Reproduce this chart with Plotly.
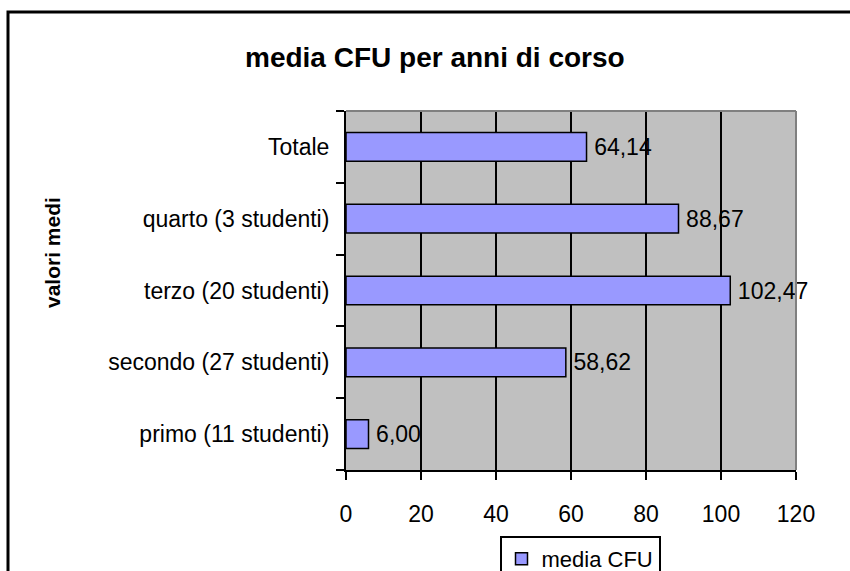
import plotly.graph_objects as go

categories = ["primo (11 studenti)", "secondo (27 studenti)", "terzo (20 studenti)",
              "quarto (3 studenti)", "Totale"]
values = [6.00, 58.62, 102.47, 88.67, 64.14]
x_ticks = [0, 20, 40, 60, 80, 100, 120]
series_name = "media CFU"
title_text = "media CFU per anni di corso"
ytitle_text = "valori medi"

W, H = 850, 571
L, R, T, B = 346, 796, 111, 470  # plot area in pixels

def px(x):
    return (x - L) / (R - L)

def py(y):
    return (B - y) / (B - T)

FONT = "Liberation Sans, Arial, sans-serif"

fig = go.Figure()
fig.add_trace(go.Bar(
    y=categories, x=values, orientation="h", name=series_name,
    width=0.4,
    marker=dict(color="#9999FF", line=dict(color="black", width=1.5)),
    texttemplate="\u2009%{x:.2f}", textposition="outside",
    textfont=dict(family=FONT, size=23, color="black"),
    cliponaxis=False, showlegend=True,
))

fig.update_layout(
    width=W, height=H,
    margin=dict(l=L, r=W - R, t=T, b=H - B, pad=0, autoexpand=False),
    paper_bgcolor="white", plot_bgcolor="#C0C0C0",
    separators=",.",
    font=dict(family=FONT, size=23, color="black"),
    showlegend=True,
    legend=dict(xref="container", yref="container",
                x=580 / W, y=1 - 536 / H, xanchor="center", yanchor="top",
                bordercolor="black", borderwidth=2, bgcolor="white",
                font=dict(family=FONT, size=22, color="black")),
)

fig.update_xaxes(range=[0, 120], tickvals=x_ticks, ticktext=[str(v) for v in x_ticks],
                 showgrid=True, gridcolor="black", gridwidth=1.5,
                 showline=True, linecolor="black", linewidth=2,
                 ticks="outside", ticklen=8, tickwidth=2, tickcolor="black",
                 ticklabelstandoff=14, zeroline=False, automargin=False,
                 tickfont=dict(family=FONT, size=23, color="black"))
fig.update_yaxes(type="category", categoryorder="array", categoryarray=categories,
                 showgrid=False, showline=True, linecolor="black", linewidth=2,
                 ticks="outside", tickson="boundaries", ticklen=8, tickwidth=2,
                 tickcolor="black", ticklabelstandoff=10, automargin=False,
                 tickfont=dict(family=FONT, size=23, color="black"))

# plot area border (top/right grey)
fig.add_shape(type="line", xref="paper", yref="paper", x0=0, x1=1, y0=1, y1=1,
              line=dict(color="#808080", width=2), layer="above")
fig.add_shape(type="line", xref="paper", yref="paper", x0=1, x1=1, y0=0, y1=1,
              line=dict(color="#808080", width=2), layer="above")

# chart frame
fig.add_shape(type="rect", xref="paper", yref="paper",
              x0=px(8), x1=px(870), y0=py(600), y1=py(12),
              line=dict(color="black", width=3), layer="above")

fig.add_annotation(text="<b>" + title_text + "</b>", xref="paper", yref="paper",
                   x=px(435), y=py(57), showarrow=False, xanchor="center", yanchor="middle",
                   font=dict(family=FONT, size=28, color="black"))
fig.add_annotation(text="<b>" + ytitle_text + "</b>", xref="paper", yref="paper",
                   x=px(52), y=py(253), showarrow=False, textangle=-90,
                   xanchor="center", yanchor="middle",
                   font=dict(family=FONT, size=21, color="black"))

fig.write_html("out.html", config={"displayModeBar": False},
               post_script="document.body.style.margin='0';document.body.style.overflow='hidden';")
